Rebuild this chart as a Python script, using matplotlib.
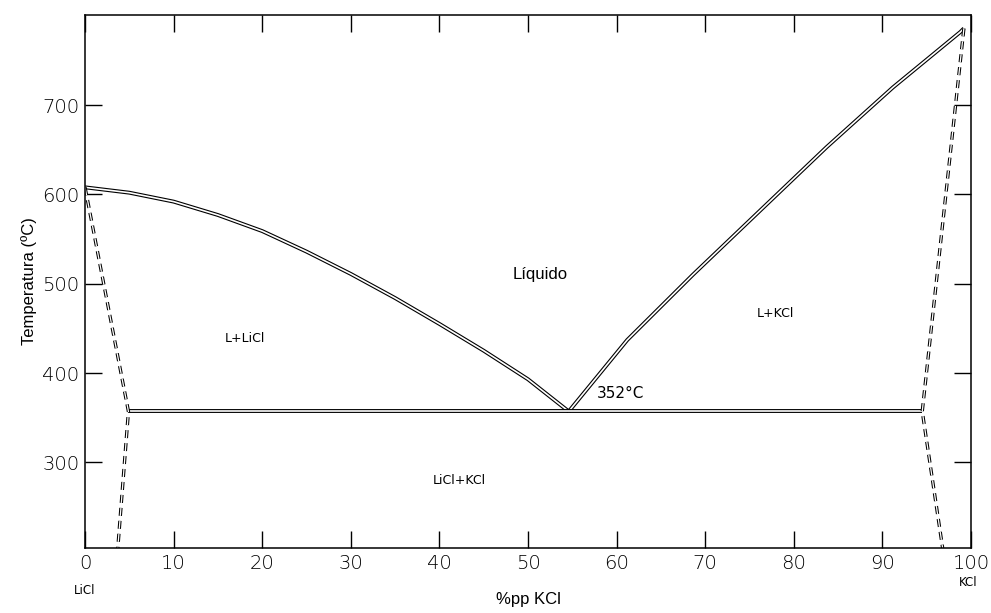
import matplotlib
matplotlib.use("Agg")
import matplotlib.pyplot as plt
import matplotlib.patheffects as pe

# Liquidus LiCl side (x %pp KCl, T °C)
liq_left_x = [0, 5, 10, 15, 20, 25, 30, 35, 40, 45, 50, 54.6]
liq_left_t = [608, 602, 592, 577, 559, 536, 511, 484, 455, 425, 393, 357]
# Liquidus KCl side
liq_right_x = [54.6, 61.2, 68.6, 76.2, 83.7, 91.2, 98.8, 99.2]
liq_right_t = [357, 437, 510, 582, 653, 720, 782, 786]
# Eutectic isotherm
eut_x = [4.9, 94.5]
eut_t = [357, 357]
# Solvus lines (dashed)
solv_left_x = [0, 4.9, 3.7]
solv_left_t = [608, 357, 204]
solv_right_x = [99.2, 94.5, 96.8]
solv_right_t = [786, 357, 204]

xticks = [0, 10, 20, 30, 40, 50, 60, 70, 80, 90, 100]
yticks = [300, 400, 500, 600, 700]

fig = plt.figure(figsize=(9.91, 6.13), dpi=100)
ax = fig.add_axes([0.0858, 0.106, 0.894, 0.8695])

double = [pe.Stroke(linewidth=2.8, foreground="black"),
          pe.Stroke(linewidth=1.2, foreground="white")]

for xs, ts in [(liq_left_x, liq_left_t), (liq_right_x, liq_right_t), (eut_x, eut_t)]:
    ax.plot(xs, ts, color="white", lw=1.2, path_effects=double,
            solid_capstyle="butt", solid_joinstyle="round")

dash_fx = [pe.Stroke(linewidth=2.4, foreground="black"),
           pe.Stroke(linewidth=0.9, foreground="white")]
for xs, ts in [(solv_left_x, solv_left_t), (solv_right_x, solv_right_t)]:
    ax.plot(xs, ts, color="white", lw=0.9, ls=(0, (6.4, 4)), path_effects=dash_fx)

ax.set_xlim(0, 100)
ax.set_ylim(204, 801)
ax.set_xticks(xticks)
ax.set_yticks(yticks)
ax.tick_params(direction="in", length=12, width=1, top=True, right=True,
               labelsize=14, pad=4)
for lab in ax.get_xticklabels() + ax.get_yticklabels():
    lab.set_fontweight("light")
for s in ax.spines.values():
    s.set_linewidth(1.1)

ax.set_ylabel("Temperatura (ºC)", fontsize=12, family="Liberation Sans", labelpad=4)
ax.set_xlabel("%pp KCl", fontsize=12, family="Liberation Sans", labelpad=14)

ax.text(51.4, 510, "Líquido", fontsize=12, family="Liberation Sans", ha="center", va="center")
ax.text(18, 439, "L+LiCl", fontsize=9, ha="center", va="center")
ax.text(77.9, 467, "L+KCl", fontsize=9, ha="center", va="center")
ax.text(42.3, 280, "LiCl+KCl", fontsize=9, ha="center", va="center")
ax.text(60.4, 377, "352°C", fontsize=11, ha="center", va="center", color="black")

fig.text(85 / 991, 1 - 591 / 613, "LiCl", fontsize=8.5, ha="center", va="center")
fig.text(968 / 991, 1 - 582 / 613, "KCl", fontsize=8.5, ha="center", va="center")

fig.savefig("out.png", dpi=100)
